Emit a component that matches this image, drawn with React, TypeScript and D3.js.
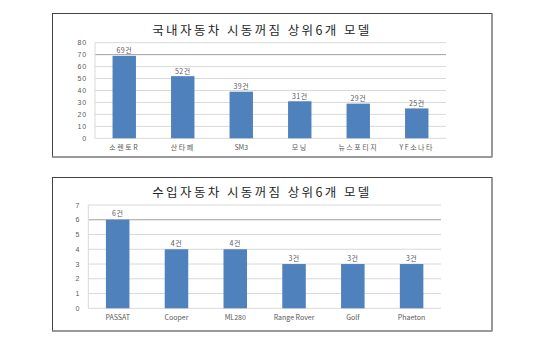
import React from "react";
import * as d3 from "d3";

const domesticTitle = "국내자동차 시동꺼짐 상위6개 모델";
const domesticModels = ["소렌토R", "산타페", "SM3", "모닝", "뉴스포티지", "YF소나타"];
const domesticCounts = [69, 52, 39, 31, 29, 25];
const domesticTicks = [0, 10, 20, 30, 40, 50, 60, 70, 80];

const importTitle = "수입자동차 시동꺼짐 상위6개 모델";
const importModels = ["PASSAT", "Cooper", "ML280", "Range Rover", "Golf", "Phaeton"];
const importCounts = [6, 4, 4, 3, 3, 3];
const importTicks = [0, 1, 2, 3, 4, 5, 6, 7];

const unit = "건";

type PanelProps = {
  title: string;
  cats: string[];
  vals: number[];
  ticks: number[];
  box: { x0: number; y0: number; x1: number; y1: number };
  plot: { left: number; right: number; top: number; bottom: number };
  titleY: number;
  darkTick: number;
  labelOffset: number;
};

const FONT = "'Noto Sans CJK KR', 'Liberation Sans', sans-serif";
const TEXT = "#595959";

function Panel(p: PanelProps) {
  const x = d3
    .scaleBand<string>()
    .domain(p.cats)
    .range([p.plot.left, p.plot.right])
    .paddingInner(0.6)
    .paddingOuter(0.3);
  const y = d3
    .scaleLinear()
    .domain([0, d3.max(p.ticks) as number])
    .range([p.plot.bottom, p.plot.top]);
  const { x0, y0, x1, y1 } = p.box;
  return (
    <g>
      <rect x={x0} y={y0} width={x1 - x0} height={y1 - y0} fill="#fff" stroke="#444" strokeWidth={1} />
      <line x1={x1} y1={y0} x2={x1} y2={y1} stroke="#999" strokeWidth={2} />
      <line x1={x0} y1={y1} x2={x1} y2={y1} stroke="#999" strokeWidth={2} />
      <text
        x={262}
        y={p.titleY}
        textAnchor="middle"
        dominantBaseline="central"
        fontFamily={FONT}
        fontSize={12.5}
        letterSpacing={2.4}
        fill="#262626"
      >
        {p.title}
      </text>
      {p.ticks.map((t) => (
        <g key={t}>
          <line
            x1={p.plot.left}
            x2={p.plot.right}
            y1={y(t)}
            y2={y(t)}
            stroke={t === p.darkTick ? "#a0a0a0" : "#d9d9d9"}
            strokeWidth={1}
          />
          <text
            x={p.plot.left - 8}
            y={y(t)}
            textAnchor="end"
            dominantBaseline="central"
            fontFamily="'Liberation Sans', sans-serif"
            fontSize={7}
            letterSpacing={0.8}
            fill={TEXT}
          >
            {t}
          </text>
        </g>
      ))}
      <line x1={p.plot.left} x2={p.plot.left} y1={p.plot.top} y2={p.plot.bottom} stroke="#d9d9d9" />
      {p.cats.map((c, i) => (
        <g key={c}>
          <rect
            x={x(c)}
            y={y(p.vals[i])}
            width={x.bandwidth()}
            height={y(0) - y(p.vals[i])}
            fill="#4f81bd"
          />
          <text
            x={(x(c) as number) + x.bandwidth() / 2}
            y={y(p.vals[i]) - p.labelOffset}
            textAnchor="middle"
            fontFamily={FONT}
            fontSize={7}
            letterSpacing={0.5}
            fill={TEXT}
          >
            {p.vals[i] + unit}
          </text>
          <text
            x={(x(c) as number) + x.bandwidth() / 2}
            y={p.plot.bottom + 8.5}
            textAnchor="middle"
            dominantBaseline="central"
            fontFamily={FONT}
            fontSize={7}
            letterSpacing={/^[\x00-\x7f]+$/.test(c) ? 0 : 1.5}
            fill={TEXT}
          >
            {c}
          </text>
        </g>
      ))}
    </g>
  );
}

export default function App() {
  return (
    <svg
      width={540}
      height={355}
      style={{ position: "absolute", left: 0, top: 0, background: "#fff" }}
    >
      <rect width={540} height={355} fill="#fff" />
      <Panel
        title={domesticTitle}
        cats={domesticModels}
        vals={domesticCounts}
        ticks={domesticTicks}
        box={{ x0: 52.5, y0: 13.5, x1: 492, y1: 157 }}
        plot={{ left: 95, right: 446, top: 42.7, bottom: 138.3 }}
        titleY={29.3}
        darkTick={70}
        labelOffset={2.5}
      />
      <Panel
        title={importTitle}
        cats={importModels}
        vals={importCounts}
        ticks={importTicks}
        box={{ x0: 52.5, y0: 177.5, x1: 492, y1: 331 }}
        plot={{ left: 88.3, right: 441, top: 205, bottom: 308.3 }}
        titleY={191.7}
        darkTick={6}
        labelOffset={3.5}
      />
    </svg>
  );
}
